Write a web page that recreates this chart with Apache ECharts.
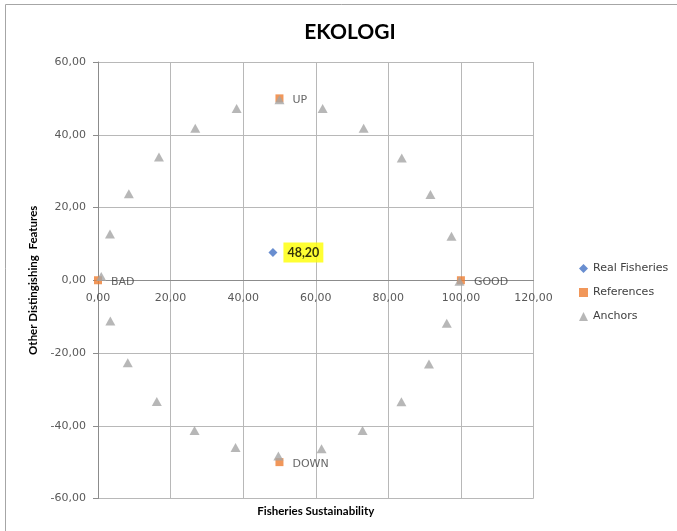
<!DOCTYPE html>
<html>
<head>
<meta charset="utf-8">
<script src="https://cdn.jsdelivr.net/npm/echarts@6/dist/echarts.min.js"></script>
<style>
  html, body { margin: 0; padding: 0; background: #fff; }
  #chart { width: 677px; height: 531px; }
</style>
</head>
<body>
<div id="chart"></div>
<script>
// real fisheries point
const realFisheries = [[48.2, 7.6]];

// reference points and their names
const referenceNames = ["BAD", "GOOD", "UP", "DOWN"];
const references = [[0, 0], [100, 0], [50, 50], [50, -50]];

// anchor points
const anchors = [
  [0.9, 1.0], [3.3, 12.7], [8.5, 23.8], [16.8, 33.9], [26.8, 41.8],
  [38.2, 47.2], [50.0, 49.6], [61.9, 47.2], [73.2, 41.8], [83.7, 33.6],
  [91.6, 23.6], [97.4, 12.1], [99.6, -0.3], [96.1, -11.8], [91.2, -23.0],
  [83.6, -33.4], [72.9, -41.3], [61.6, -46.3], [49.7, -48.3], [37.9, -46.0],
  [26.6, -41.3], [16.2, -33.3], [8.2, -22.7], [3.4, -11.2]
];

const fmt = (v) => v.toFixed(2).replace(".", ",");

const chart = echarts.init(document.getElementById("chart"));

const gridTop = 62;
const gridBottom = 32.5;
const gridHeight = 531 - gridTop - gridBottom;

const option = {
  backgroundColor: "#fff",
  animation: false,
  textStyle: { fontFamily: "DejaVu Sans" },
  title: {
    text: "EKOLOGI",
    left: 345,
    top: 17,
    textAlign: "center",
    textStyle: { fontFamily: "Lato", fontWeight: "bold", fontSize: 21, color: "#000" },
  },
  graphic: [
    {
      type: "rect",
      shape: { x: 5.5, y: 4.5, width: 720, height: 600 },
      style: { fill: "none", stroke: "#a6a6a6", lineWidth: 1 },
      silent: true,
    },
  ],
  legend: {
    orient: "vertical",
    left: 574,
    top: 258,
    itemWidth: 9,
    itemHeight: 9,
    itemGap: 13,
    textStyle: { fontSize: 11, color: "#404040", fontFamily: "DejaVu Sans" },
    data: [
      { name: "Real Fisheries", icon: "diamond" },
      { name: "References", icon: "rect" },
      { name: "Anchors", icon: "triangle" },
    ],
  },
  grid: {
    left: 98,
    right: 143.5,
    top: gridTop,
    bottom: gridBottom,
    containLabel: false,
    outerBoundsMode: "none",
  },
  xAxis: {
    type: "value",
    min: 0,
    max: 120,
    interval: 20,
    position: "bottom",
    // axis sits on y = 0, in the middle of the plot
    offset: -gridHeight / 2,
    name: "Fisheries Sustainability",
    nameLocation: "middle",
    nameGap: 225,
    nameTextStyle: { fontFamily: "Lato", fontWeight: "bold", fontSize: 11.5, color: "#000" },
    axisLine: { onZero: false, lineStyle: { color: "#8c8c8c", width: 1 } },
    axisTick: { show: false },
    axisLabel: { formatter: fmt, fontSize: 11, color: "#595959", margin: 12 },
    splitLine: { lineStyle: { color: "#b8b8b8", width: 1 } },
  },
  yAxis: {
    type: "value",
    min: -60,
    max: 60,
    interval: 20,
    name: "Other Distingishing  Features",
    nameLocation: "middle",
    nameRotate: 90,
    nameGap: 52,
    nameTextStyle: { fontFamily: "Lato", fontWeight: "bold", fontSize: 11.5, color: "#000" },
    axisLine: { show: true, onZero: false, lineStyle: { color: "#8c8c8c", width: 1 } },
    axisTick: { show: true, length: 5, lineStyle: { color: "#8c8c8c" } },
    axisLabel: { formatter: fmt, fontSize: 11, color: "#595959", margin: 12 },
    splitLine: { lineStyle: { color: "#b8b8b8", width: 1 } },
  },
  series: [
    {
      name: "Real Fisheries",
      type: "scatter",
      data: realFisheries,
      symbol: "diamond",
      symbolSize: 9,
      itemStyle: { color: "#4472c4" },
      label: {
        show: true,
        position: "right",
        distance: 6,
        formatter: (p) => fmt(p.value[0]),
        fontFamily: "Lato",
        fontWeight: "bold",
        fontSize: 12.5,
        color: "#000",
        backgroundColor: "#ffff00",
        padding: [4, 4, 3, 4],
      },
    },
    {
      name: "References",
      type: "scatter",
      data: references,
      symbol: "rect",
      symbolSize: 8,
      itemStyle: { color: "#ed7d31" },
      label: {
        show: true,
        position: "right",
        distance: 9,
        offset: [0, 2],
        formatter: (p) => referenceNames[p.dataIndex],
        fontSize: 11,
        color: "#404040",
      },
    },
    {
      name: "Anchors",
      type: "scatter",
      data: anchors,
      symbol: "triangle",
      symbolSize: [10, 9],
      itemStyle: { color: "#a5a5a5" },
    },
  ],
};

chart.setOption(option);
</script>
</body>
</html>
